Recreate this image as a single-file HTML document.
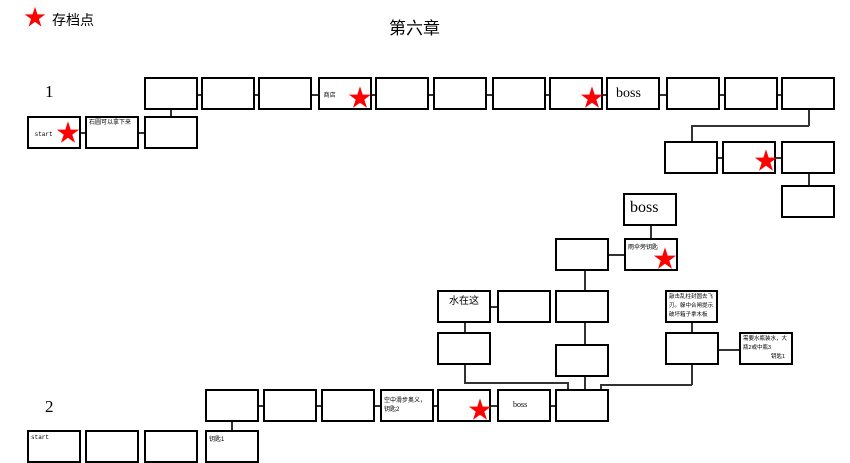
<!DOCTYPE html>
<html><head><meta charset="utf-8"><style>
body{margin:0;width:850px;height:444px;overflow:hidden;background:#fff;position:relative;font-family:"Liberation Sans","Noto Sans CJK SC",sans-serif}
.b{position:absolute;box-sizing:border-box;border:2.5px solid #000;background:#fff;height:33px;width:54px;font-size:6px;line-height:9px;padding:1px 2px;overflow:hidden}
.b:after{content:"S1";position:absolute;left:3px;top:8px;font:16px "Liberation Serif",serif;color:#f4f4f4;z-index:-1}
.h{position:absolute;background:#333;height:1.5px}
.v{position:absolute;background:#333;width:1.5px}
.s{position:absolute;color:#f00;font-size:24px;line-height:24px}
.t{position:absolute;white-space:nowrap}
</style></head><body>
<div class="t" style="left:24px;top:6px;color:#f00;font-size:22px;line-height:24px">★</div>
<div class="t" style="left:52px;top:10px;font-size:14px">存档点</div>
<div class="t" style="left:389px;top:14px;font-size:17px">第六章</div>
<div class="t" style="left:45px;top:82px;font:17px 'Liberation Serif',serif">1</div>
<div class="t" style="left:45px;top:397px;font:17px 'Liberation Serif',serif">2</div>

<div class="h" style="left:144px;width:690px;top:94px"></div>
<div class="h" style="left:27px;width:170px;top:132px"></div>
<div class="v" style="left:170px;top:110px;height:8px"></div>
<div class="v" style="left:808px;top:110px;height:16px"></div>
<div class="h" style="left:691px;width:118px;top:125px"></div>
<div class="v" style="left:691px;top:125px;height:17px"></div>
<div class="h" style="left:664px;width:170px;top:157px"></div>
<div class="v" style="left:808px;top:173px;height:13px"></div>

<div class="b" style="left:144px;top:77px"></div>
<div class="b" style="left:201px;top:77px"></div>
<div class="b" style="left:258px;top:77px"></div>
<div class="b" style="left:318px;top:77px;padding-top:13px">&nbsp;商店</div>
<div class="b" style="left:375px;top:77px"></div>
<div class="b" style="left:433px;top:77px"></div>
<div class="b" style="left:492px;top:77px"></div>
<div class="b" style="left:549px;top:77px"></div>
<div class="b" style="left:606px;top:77px;font:14px 'Liberation Serif',serif;padding:7px 8px">boss</div>
<div class="b" style="left:666px;top:77px"></div>
<div class="b" style="left:724px;top:77px"></div>
<div class="b" style="left:781px;top:77px"></div>
<div class="b" style="left:27px;top:116px;padding-top:12px;font-family:'Liberation Mono',monospace">&nbsp;start</div>
<div class="b" style="left:85px;top:116px">石圆可以拿下来</div>
<div class="b" style="left:144px;top:116px"></div>
<div class="b" style="left:664px;top:141px"></div>
<div class="b" style="left:722px;top:141px"></div>
<div class="b" style="left:781px;top:141px"></div>
<div class="b" style="left:781px;top:185px"></div>
<div class="s" style="left:56px;top:122px">★</div>
<div class="s" style="left:348px;top:87px">★</div>
<div class="s" style="left:580px;top:87px">★</div>
<div class="s" style="left:754px;top:150px">★</div>

<div class="v" style="left:650px;top:225px;height:14px"></div>
<div class="h" style="left:607px;width:18px;top:254px"></div>
<div class="v" style="left:584px;top:270px;height:120px"></div>
<div class="h" style="left:489px;width:9px;top:306px"></div>
<div class="v" style="left:464px;top:322px;height:11px"></div>
<div class="v" style="left:464px;top:363px;height:20px"></div>
<div class="h" style="left:464px;width:104px;top:382px"></div>
<div class="v" style="left:567px;top:382px;height:8px"></div>
<div class="v" style="left:691px;top:322px;height:11px"></div>
<div class="v" style="left:691px;top:363px;height:22px"></div>
<div class="h" style="left:600px;width:92px;top:384px"></div>
<div class="v" style="left:600px;top:384px;height:6px"></div>
<div class="h" style="left:716px;width:24px;top:349px"></div>
<div class="h" style="left:205px;width:402px;top:405px"></div>
<div class="v" style="left:231px;top:421px;height:10px"></div>

<div class="b" style="left:623px;top:193px;font:16px 'Liberation Serif',serif;padding:4px 5px">boss</div>
<div class="b" style="left:555px;top:238px"></div>
<div class="b" style="left:624px;top:238px;padding-top:4px">雨伞旁钥匙</div>
<div class="b" style="left:437px;top:290px;font-size:10px;line-height:12px;padding:4px 0 0 10px;white-space:nowrap">水在这</div>
<div class="b" style="left:497px;top:290px"></div>
<div class="b" style="left:555px;top:290px"></div>
<div class="b" style="left:665px;top:290px;width:53px;font-size:5.5px;line-height:9px">敲击乱柱封圆去飞刃。躲中合闸提示 破坏箱子拿木板</div>
<div class="b" style="left:437px;top:332px"></div>
<div class="b" style="left:555px;top:344px"></div>
<div class="b" style="left:665px;top:332px"></div>
<div class="b" style="left:739px;top:332px;font-size:5.5px;line-height:9px">需要水瓶装水，大瓶2或中瓶3<br><span style="padding-left:28px">钥匙1</span></div>

<div class="b" style="left:205px;top:389px"></div>
<div class="b" style="left:263px;top:389px"></div>
<div class="b" style="left:321px;top:389px"></div>
<div class="b" style="left:380px;top:389px;padding-top:6px">空中滑步奥义，钥匙2</div>
<div class="b" style="left:437px;top:389px"></div>
<div class="b" style="left:497px;top:389px;font:8px 'Liberation Serif',serif;padding:9px 14px">boss</div>
<div class="b" style="left:555px;top:389px"></div>
<div class="s" style="left:653px;top:248px">★</div>
<div class="s" style="left:468px;top:399px">★</div>

<div class="b" style="left:27px;top:430px;font-family:'Liberation Mono',monospace">start</div>
<div class="b" style="left:85px;top:430px"></div>
<div class="b" style="left:144px;top:430px"></div>
<div class="b" style="left:205px;top:430px;padding-top:4px">钥匙1</div>
</body></html>
